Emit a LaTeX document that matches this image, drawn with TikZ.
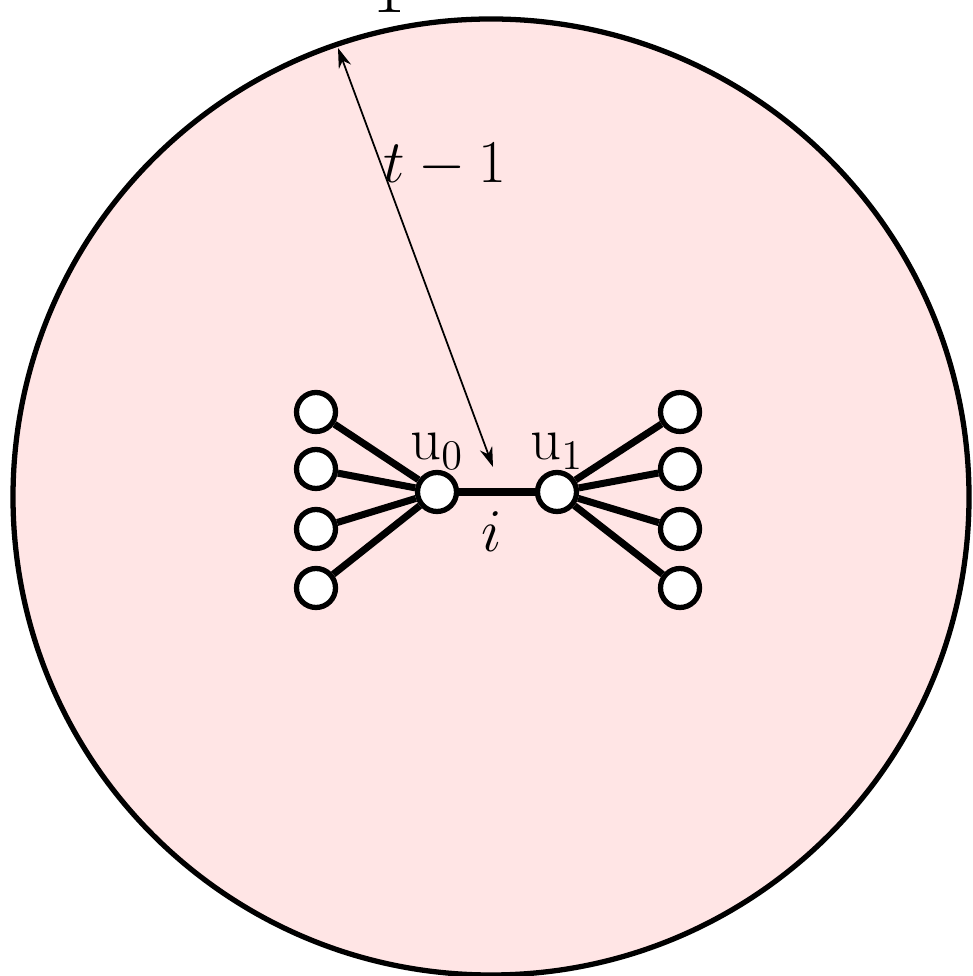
\documentclass[tikz,border=0pt]{standalone}
\usepackage{amsmath}
\usepackage{amssymb}
\usepackage{xcolor}
\usetikzlibrary{arrows.meta, calc}

\begin{document}
\begin{tikzpicture}[
  >={Stealth[length=2mm, width=1.3mm]},
  font=\LARGE,
  vertex/.style={circle, draw, fill=white, line width=1.5pt, minimum size=3.9mm, inner sep=0pt},
  link/.style={line width=2pt},
  ]
  \useasboundingbox (0, 0) rectangle (9.72, 9.76);

  % Ball of radius t-1 around the edge
  \draw[fill=red!10, line width=1.5pt] (4.91, 4.79) circle (4.78);
  \node[anchor=base, font=\fontsize{20}{24}\selectfont] (top) at (3.89, 9.63) {$1$};

  % Central edge i = u0 u1
  \node[vertex] (u0) at (4.37, 4.84) {};
  \node[vertex] (u1) at (5.57, 4.84) {};
  \draw[link] (u0) -- (u1);

  % Leaves on both sides
  \foreach \k/\y in {1/5.64, 2/5.07, 3/4.47, 4/3.88} {
    \node[vertex] (l\k) at (3.16, \y) {};
    \node[vertex] (r\k) at (6.80, \y) {};
    \draw[link] (l\k) -- (u0);
    \draw[link] (r\k) -- (u1);
  }

  % Labels
  \node[anchor=base] (lu0) at (4.37, 5.16) {$\mathrm{u}_0$};
  \node[anchor=base] (lu1) at (5.57, 5.16) {$\mathrm{u}_1$};
  \node[font=\fontsize{19}{22}\selectfont] (li) at (4.92, 4.44) {$i$};

  % Radius arrow
  \coordinate (rtop) at (3.38, 9.28);
  \coordinate (rbot) at (4.93, 5.09);
  \draw[<->, line width=0.5pt] (rtop) -- (rbot);
  \node[anchor=base] (lt) at (4.45, 7.93) {$t-1$};
\end{tikzpicture}
\end{document}
